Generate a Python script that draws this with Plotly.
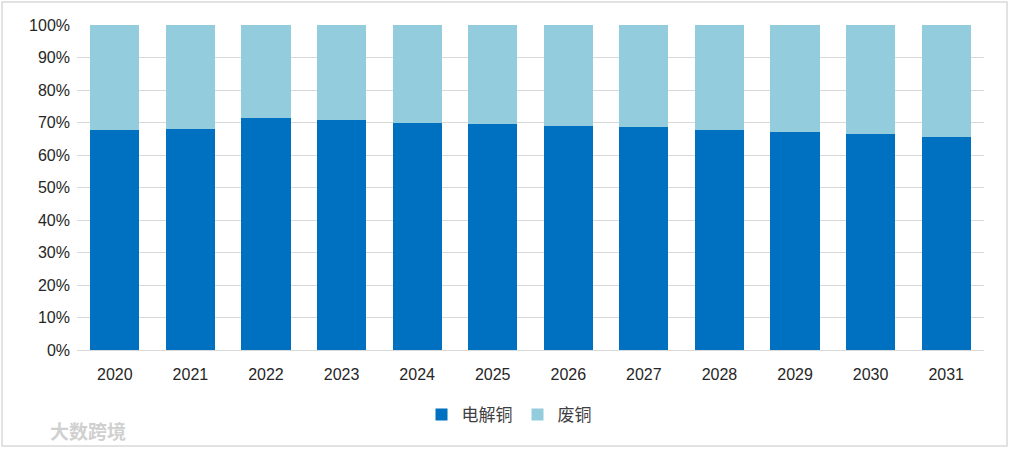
import plotly.graph_objects as go

years = ["2020", "2021", "2022", "2023", "2024", "2025", "2026", "2027", "2028", "2029", "2030", "2031"]
electrolytic = [67.7, 68.0, 71.4, 70.8, 69.8, 69.5, 68.9, 68.6, 67.7, 67.1, 66.5, 65.5]
scrap = [round(100 - v, 1) for v in electrolytic]
y_ticks = [0, 10, 20, 30, 40, 50, 60, 70, 80, 90, 100]
y_labels = [f"{t}%" for t in y_ticks]

font_family = "Liberation Sans, Noto Sans CJK SC, sans-serif"

fig = go.Figure()
fig.add_trace(go.Bar(x=years, y=electrolytic, name="电解铜", marker=dict(color="#0070C0", line=dict(width=0))))
fig.add_trace(go.Bar(x=years, y=scrap, name="废铜", marker=dict(color="#93CDDD", line=dict(width=0))))

W, H = 1010, 449
L, R, T, B = 77, 26, 25, 99
pw, ph = W - L - R, H - T - B

def px_x(x):
    return (x - L) / pw

def px_y(y):
    return (H - B - y) / ph

fig.update_layout(
    width=W, height=H,
    barmode="stack",
    bargap=0.35,
    plot_bgcolor="white",
    paper_bgcolor="white",
    margin=dict(l=L, r=R, t=T, b=B, autoexpand=False),
    font=dict(family=font_family, size=16, color="#262626"),
    legend=dict(orientation="h", x=px_x(509), xanchor="center", y=px_y(415), yanchor="middle",
                font=dict(size=17, color="#404040", family="Noto Sans CJK SC"),
                itemwidth=30, traceorder="normal"),
    xaxis=dict(showgrid=False, showline=True, linecolor="#d9d9d9", linewidth=1,
               ticks="", ticklabelstandoff=10, tickfont=dict(size=16, color="#262626")),
    yaxis=dict(range=[0, 100], tickvals=y_ticks, ticktext=y_labels, showgrid=True,
               gridcolor="#d9d9d9", gridwidth=1, zeroline=False, showline=False,
               ticks="", ticklabelstandoff=6, tickfont=dict(size=16, color="#262626")),
    shapes=[dict(type="rect", xref="paper", yref="paper",
                 x0=px_x(2), x1=px_x(1007), y0=px_y(446), y1=px_y(2),
                 line=dict(color="#d9d9d9", width=1.5), layer="below")],
    annotations=[dict(text="<b>大数跨境</b>", xref="paper", yref="paper",
                      x=px_x(48), y=px_y(430), xanchor="left", yanchor="middle",
                      showarrow=False, font=dict(size=19, color="#d0d0d0",
                                                  family="Noto Sans CJK SC"))],
)

fig.write_html("out.html", config={"displayModeBar": False},
               post_script="document.body.style.margin='0';document.body.style.padding='0';")
